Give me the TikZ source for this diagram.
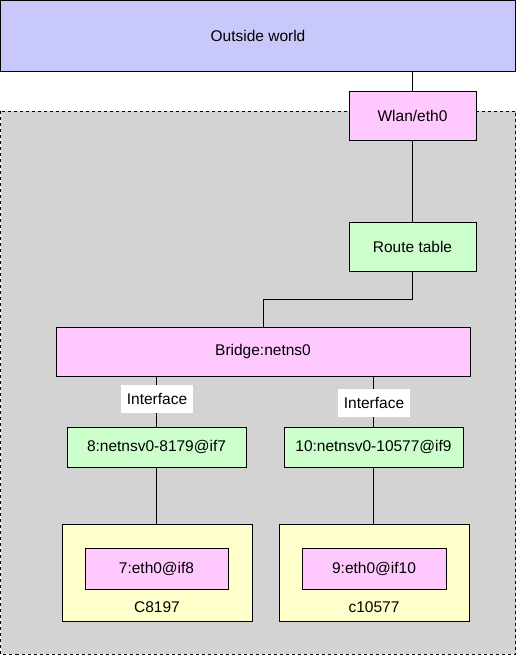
\documentclass[tikz,border=0pt]{standalone}
\usepackage{fontspec}
\setmainfont{Liberation Sans}
\usepackage{xcolor}
\usetikzlibrary{calc}
\definecolor{worldblue}{RGB}{200,200,250}
\definecolor{ifpink}{RGB}{255,200,255}
\definecolor{routegreen}{RGB}{204,255,204}
\definecolor{boxyellow}{RGB}{255,255,204}
\definecolor{hostgray}{RGB}{211,211,211}
\tikzset{every node/.append style={font=\fontsize{15.5}{18}\selectfont, inner sep=0pt}}
\tikzset{
  box/.style={draw, line width=0.8pt, minimum width=#1},
  box/.default=127pt,
  pinkbox/.style={box=#1, fill=ifpink, minimum height=49pt},
  greenbox/.style={box=#1, fill=routegreen, minimum height=49pt},
  tag/.style={fill=white, minimum width=72pt, minimum height=28pt},
  link/.style={line width=0.8pt}
}

\begin{document}
\begin{tikzpicture}[x=1pt, y=-1pt]
    \useasboundingbox (0,0) rectangle (516,657);
    % host namespace
    \draw[dashed, line width=0.8pt, fill=hostgray] (0.5,111) rectangle (515.5,654);
    \node[box=515pt, fill=worldblue, minimum height=71pt] (outside) at (258,36) {Outside world};
    \node[pinkbox=127pt] (wlan) at (412.5,115.5) {Wlan/eth0};
    \node[greenbox=127pt] (route) at (412.5,246.5) {Route table};
    \node[pinkbox=414pt] (bridge) at (263,351.5) {Bridge:netns0};
    % veth pairs
    \node[greenbox=179pt, minimum height=40pt] (vethleft) at (156.5,447) {8:netnsv0-8179@if7};
    \node[greenbox=179pt, minimum height=40pt] (vethright) at (373.5,447) {10:netnsv0-10577@if9};
    % containers
    \node[box=190pt, fill=boxyellow, minimum height=97pt] (cleft) at (157,572.5) {};
    \node[box=190pt, fill=boxyellow, minimum height=97pt] (cright) at (374,572.5) {};
    \node[box=143pt, fill=ifpink, minimum height=41pt] (ethleft) at (156.5,568.5) {7:eth0@if8};
    \node[box=144pt, fill=ifpink, minimum height=41pt] (ethright) at (374,568.5) {9:eth0@if10};
    \node (nameleft) at (157,607) {C8197};
    \node (nameright) at (374,607) {c10577};
    % links
    \coordinate (bend) at (263,299);
    \draw[link] (wlan.north |- outside.south) -- (wlan.north);
    \draw[link] (wlan.south) -- (route.north);
    \draw[link] (route.south) |- (bend) -- (bend |- bridge.north);
    \draw[link] (vethleft.north |- bridge.south) -- (vethleft.north);
    \draw[link] (vethright.north |- bridge.south) -- (vethright.north);
    \draw[link] (vethleft.south) -- (vethleft.south |- cleft.north);
    \draw[link] (vethright.south) -- (vethright.south |- cright.north);
    \node[tag] (ifleft) at (157,399) {Interface};
    \node[tag] (ifright) at (374,403) {Interface};
\end{tikzpicture}
\end{document}
